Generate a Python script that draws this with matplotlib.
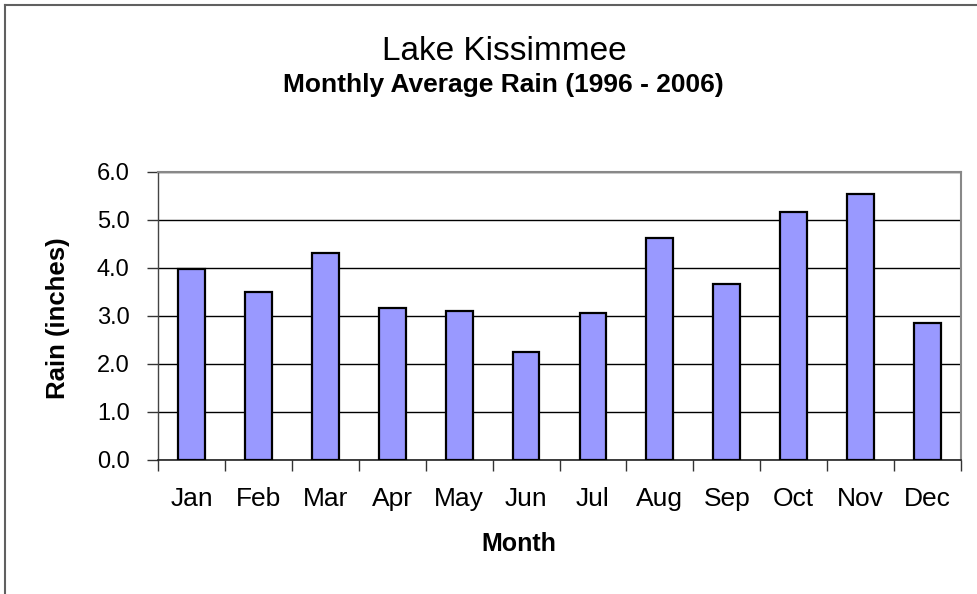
import matplotlib
matplotlib.use("Agg")
import matplotlib.pyplot as plt
from matplotlib.lines import Line2D
from matplotlib.ticker import FixedLocator, FormatStrFormatter

months = ["Jan", "Feb", "Mar", "Apr", "May", "Jun", "Jul", "Aug", "Sep", "Oct", "Nov", "Dec"]
rain = [3.97, 3.51, 4.31, 3.17, 3.10, 2.26, 3.06, 4.63, 3.67, 5.17, 5.55, 2.85]
yticks = [0.0, 1.0, 2.0, 3.0, 4.0, 5.0, 6.0]

plt.rcParams['font.family'] = ['Liberation Sans', 'DejaVu Sans']

W, H = 978, 594
fig = plt.figure(figsize=(W / 100, H / 100), dpi=100)
ax = fig.add_axes([158 / W, 1 - 460 / H, (961 - 158) / W, (460 - 172) / H])

x = list(range(len(months)))
ax.bar(x, rain, width=0.4, color="#9999FF", edgecolor="black", linewidth=1.6, zorder=3)

ax.set_xlim(-0.5, len(months) - 0.5)
ax.set_ylim(0, 6)
ax.set_yticks(yticks)
ax.yaxis.set_major_formatter(FormatStrFormatter("%.1f"))
ax.grid(axis="y", color="black", linewidth=1.0, zorder=0)

ax.set_xticks(x)
ax.set_xticklabels(months)
ax.xaxis.set_minor_locator(FixedLocator([i - 0.5 for i in range(len(months) + 1)]))
ax.tick_params(axis="x", which="major", length=0, pad=19.5, labelsize=19)
ax.tick_params(axis="x", which="minor", length=8, width=1, color="#333333", direction="out")
ax.tick_params(axis="y", which="major", length=8, width=1, color="#333333", direction="out",
               labelsize=17, pad=12.5)

for s in ["top", "right"]:
    ax.spines[s].set_color("#888888")
    ax.spines[s].set_linewidth(1.5)
ax.spines["left"].set_color("#444444")
ax.spines["bottom"].set_color("#222222")
ax.spines["left"].set_linewidth(1)
ax.spines["bottom"].set_linewidth(1.2)

fig.text(58 / W, 1 - 318 / H, "Rain (inches)", fontsize=18.5, fontweight="bold",
         rotation=90, ha="center", va="center")
fig.text(519 / W, 1 - 551 / H, "Month", fontsize=18, fontweight="bold",
         ha="center", va="baseline")

fig.text(504 / W, 1 - 60 / H, "Lake Kissimmee", fontsize=24, ha="center", va="baseline")
fig.text(503 / W, 1 - 92 / H, "Monthly Average Rain (1996 - 2006)", fontsize=19,
         fontweight="bold", ha="center", va="baseline")

# outer chart frame
fig.add_artist(Line2D([5 / W, 5 / W], [0, 1 - 5 / H], color="#606060", linewidth=1.5))
fig.add_artist(Line2D([5 / W, 1.0], [1 - 5 / H, 1 - 5 / H], color="#606060", linewidth=1.5))

fig.savefig("out.png", dpi=100)
